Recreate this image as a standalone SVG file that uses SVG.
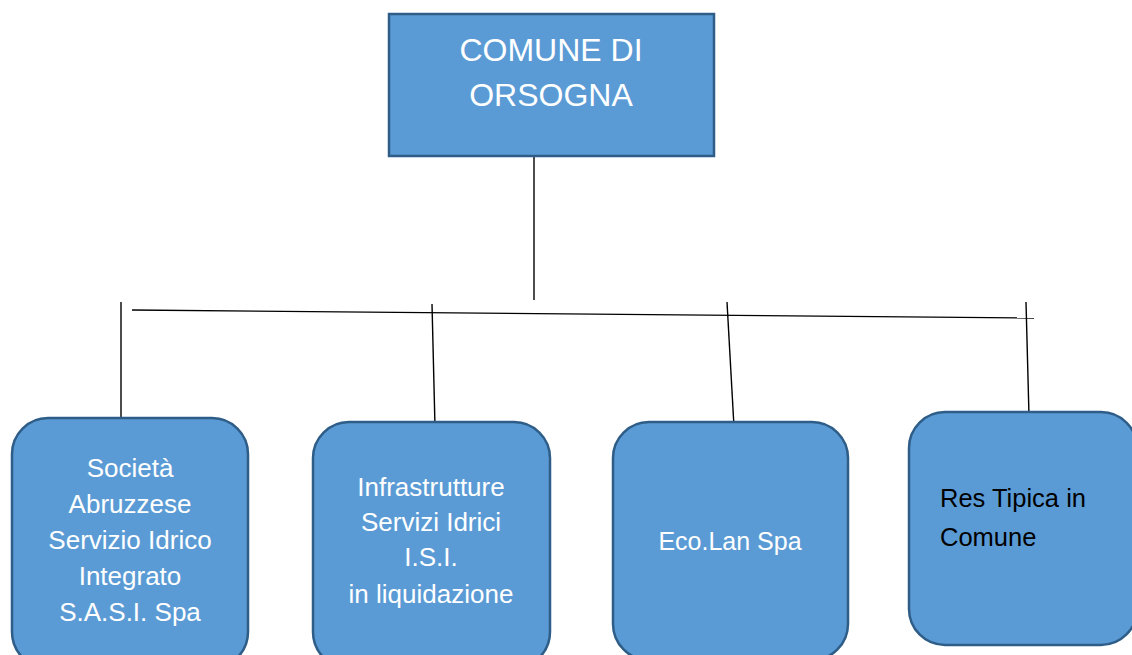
<svg xmlns="http://www.w3.org/2000/svg" width="1132" height="655" viewBox="0 0 1132 655">
<style>
.box{fill:#5b9bd5;stroke:#2e5d88;stroke-width:2.5}
.ln{stroke:#000;stroke-width:1.4;fill:none}
.t{font-family:"Liberation Sans",Arial,sans-serif;font-size:26px;fill:#fff;text-anchor:middle}
.t2{font-family:"Liberation Sans",Arial,sans-serif;font-size:25px;fill:#fff;text-anchor:middle}
.tt{font-family:"Liberation Sans",Arial,sans-serif;font-size:32px;fill:#fff;text-anchor:middle}
.tb{font-family:"Liberation Sans",Arial,sans-serif;font-size:25.5px;fill:#000}
</style>
<rect width="1132" height="655" fill="#fff"/>
<g id="connectors">
<line class="ln" x1="534" y1="157" x2="534" y2="300" stroke="#333"/>
<line class="ln" x1="132" y1="310" x2="1034" y2="318"/>
<line class="ln" x1="121" y1="302" x2="121" y2="418" stroke="#333"/>
<line class="ln" x1="432" y1="304" x2="435" y2="427"/>
<line class="ln" x1="727" y1="302" x2="734" y2="427"/>
<line class="ln" x1="1026" y1="302" x2="1029" y2="416"/>
</g>
<g id="comune">
<rect class="box" x="389" y="14" width="325" height="142"/>
<text class="tt" x="551" y="61">COMUNE DI</text>
<text class="tt" x="551" y="106">ORSOGNA</text>
</g>
<g id="sasi">
<rect class="box" x="12" y="418" width="236" height="250" rx="36"/>
<text class="t" x="130" y="477">Società</text>
<text class="t" x="130" y="513">Abruzzese</text>
<text class="t" x="130" y="549">Servizio Idrico</text>
<text class="t" x="130" y="585">Integrato</text>
<text class="t" x="130" y="621">S.A.S.I. Spa</text>
</g>
<g id="isi">
<rect class="box" x="313" y="422" width="237" height="246" rx="36"/>
<text class="t" x="431" y="496">Infrastrutture</text>
<text class="t" x="431" y="531">Servizi Idrici</text>
<text class="t" x="431" y="566">I.S.I.</text>
<text class="t" x="431" y="603">in liquidazione</text>
</g>
<g id="ecolan">
<rect class="box" x="613" y="422" width="235" height="238" rx="36"/>
<text class="t2" x="730" y="550">Eco.Lan Spa</text>
</g>
<g id="restipica">
<rect class="box" x="909" y="412" width="228" height="233" rx="36"/>
<text class="tb" x="940" y="507">Res Tipica in</text>
<text class="tb" x="940" y="546">Comune</text>
</g>
</svg>
